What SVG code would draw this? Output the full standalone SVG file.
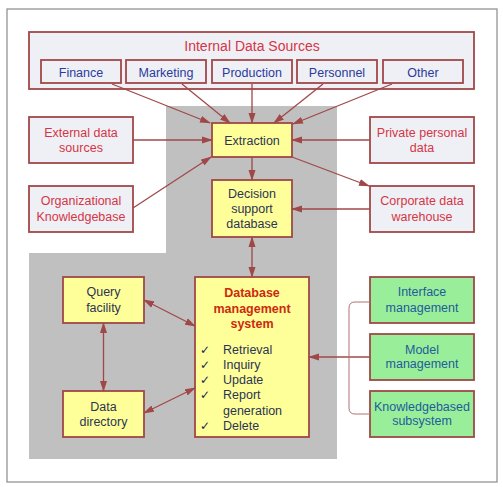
<svg xmlns="http://www.w3.org/2000/svg" width="503" height="487" viewBox="0 0 503 487">
<defs>
<marker id="ah" markerUnits="userSpaceOnUse" markerWidth="11" markerHeight="8" refX="10" refY="4" orient="auto-start-reverse">
<path d="M0,0.5 L11,4 L0,7.5 Z" fill="#a04848"/>
</marker>
<style>
text{font-family:"Liberation Sans",Arial,sans-serif;font-size:12.5px;text-anchor:middle}
.box{stroke:#a04848;stroke-width:1.8}
.lt{fill:#eef0f6}
.yl{fill:#ffff99}
.gr{fill:#99ee99}
.red{fill:#d63545}
.blue{fill:#2b3a9c}
.dk{fill:#2c3454}
.tl{fill:#1f5c9c}
.ttl{fill:#cc2a10;font-weight:bold}
.ck{text-anchor:start;fill:#2c3454}
.cm{font-family:"DejaVu Sans",sans-serif;font-size:12px;font-style:italic;fill:#1c2448}
.cn line,.cn path{stroke:#a04848;stroke-width:1.3;fill:none}
</style>
</defs>
<rect x="0" y="0" width="503" height="487" fill="#ffffff"/>
<rect x="7" y="9" width="490" height="473" fill="#ffffff" stroke="#8a8a8a" stroke-width="1.2"/>
<path d="M166,106 H337 V459 H29 V253 H166 Z" fill="#c0c0c0"/>

<g id="internal">
<rect class="box lt" x="29" y="32" width="445" height="57"/>
<text class="red" x="252" y="51" style="font-size:14px">Internal Data Sources</text>
</g>
<g id="finance"><rect class="box lt" x="41" y="60" width="80" height="23"/><text class="blue" x="81" y="76.5">Finance</text></g>
<g id="marketing"><rect class="box lt" x="126" y="60" width="80" height="23"/><text class="blue" x="166" y="76.5">Marketing</text></g>
<g id="production"><rect class="box lt" x="212" y="60" width="80" height="23"/><text class="blue" x="252" y="76.5">Production</text></g>
<g id="personnel"><rect class="box lt" x="297" y="60" width="80" height="23"/><text class="blue" x="337" y="76.5">Personnel</text></g>
<g id="other"><rect class="box lt" x="383" y="60" width="80" height="23"/><text class="blue" x="423" y="76.5">Other</text></g>

<g id="external"><rect class="box lt" x="29" y="117" width="104" height="46"/><text class="red" x="81" y="137">External data</text><text class="red" x="81" y="152">sources</text></g>
<g id="private"><rect class="box lt" x="370" y="117" width="104" height="46"/><text class="red" x="422" y="137">Private personal</text><text class="red" x="422" y="152">data</text></g>
<g id="orgkb"><rect class="box lt" x="29" y="186" width="104" height="46"/><text class="red" x="81" y="205">Organizational</text><text class="red" x="81" y="220.5">Knowledgebase</text></g>
<g id="corporate"><rect class="box lt" x="370" y="186" width="104" height="46"/><text class="red" x="422" y="205">Corporate data</text><text class="red" x="422" y="220.5">warehouse</text></g>

<g id="extraction"><rect class="box yl" x="212" y="123" width="80" height="34"/><text class="dk" x="252" y="144.5">Extraction</text></g>
<g id="dsd"><rect class="box yl" x="212" y="180" width="80" height="57"/><text class="dk" x="252" y="197.5">Decision</text><text class="dk" x="252" y="213">support</text><text class="dk" x="252" y="228">database</text></g>

<g id="query"><rect class="box yl" x="63" y="277" width="81" height="46"/><text class="dk" x="103.5" y="296">Query</text><text class="dk" x="103.5" y="311.5">facility</text></g>
<g id="datadir"><rect class="box yl" x="63" y="391" width="81" height="46"/><text class="dk" x="103.5" y="411">Data</text><text class="dk" x="103.5" y="425.5">directory</text></g>

<g id="dbms">
<rect class="box yl" x="195" y="277" width="114" height="160"/>
<text class="ttl" x="252" y="297">Database</text>
<text class="ttl" x="252" y="312.5">management</text>
<text class="ttl" x="252" y="328">system</text>
<text class="ck cm" x="200" y="353.5">✓</text>
<text class="ck" x="223" y="353.5">Retrieval</text>
<text class="ck cm" x="200" y="368.8">✓</text>
<text class="ck" x="223" y="368.8">Inquiry</text>
<text class="ck cm" x="200" y="384.2">✓</text>
<text class="ck" x="223" y="384.2">Update</text>
<text class="ck cm" x="200" y="399.2">✓</text>
<text class="ck" x="223" y="399.2">Report</text>
<text class="ck" x="223" y="414.5">generation</text>
<text class="ck cm" x="200" y="429.5">✓</text>
<text class="ck" x="223" y="429.5">Delete</text>
</g>

<g id="interface"><rect class="box gr" x="370" y="277" width="104" height="46"/><text class="tl" x="422" y="296">Interface</text><text class="tl" x="422" y="311.5">management</text></g>
<g id="model"><rect class="box gr" x="370" y="334" width="104" height="46"/><text class="tl" x="422" y="353.5">Model</text><text class="tl" x="422" y="368">management</text></g>
<g id="kbs"><rect class="box gr" x="370" y="391" width="104" height="46"/><text class="tl" x="422" y="410.5">Knowledgebased</text><text class="tl" x="422" y="425">subsystem</text></g>

<g id="connectors" class="cn">
<line x1="112" y1="84" x2="210" y2="123" marker-end="url(#ah)"/>
<line x1="182" y1="84" x2="230" y2="123" marker-end="url(#ah)"/>
<line x1="252" y1="84" x2="252" y2="123" marker-end="url(#ah)"/>
<line x1="323" y1="84" x2="274" y2="123" marker-end="url(#ah)"/>
<line x1="392" y1="84" x2="293" y2="124" marker-end="url(#ah)"/>
<line x1="133" y1="140" x2="212" y2="140" marker-end="url(#ah)"/>
<line x1="370" y1="140" x2="292" y2="140" marker-end="url(#ah)"/>
<line x1="133" y1="208" x2="211" y2="157" marker-end="url(#ah)"/>
<line x1="252" y1="157" x2="252" y2="180" marker-end="url(#ah)"/>
<line x1="292" y1="157" x2="369" y2="186" marker-end="url(#ah)"/>
<line x1="370" y1="209" x2="292" y2="209" marker-end="url(#ah)"/>
<line x1="252" y1="237" x2="252" y2="277" marker-start="url(#ah)" marker-end="url(#ah)"/>
<line x1="144" y1="300" x2="195" y2="326" marker-start="url(#ah)" marker-end="url(#ah)"/>
<line x1="103.5" y1="323" x2="103.5" y2="391" marker-start="url(#ah)" marker-end="url(#ah)"/>
<line x1="144" y1="413" x2="195" y2="388" marker-start="url(#ah)" marker-end="url(#ah)"/>
<line x1="370" y1="357" x2="309" y2="357" marker-end="url(#ah)"/>
<path d="M370,302 H355 Q349,302 349,308 V408 Q349,414 355,414 H370" style="stroke:#b07070;stroke-width:1"/>
</g>
</svg>
